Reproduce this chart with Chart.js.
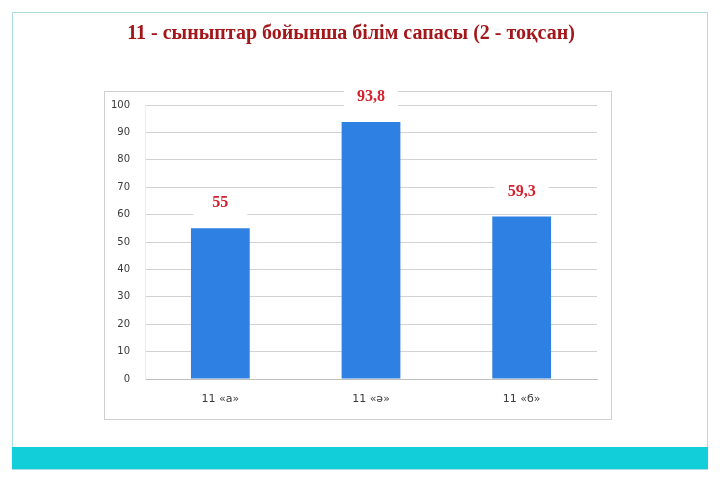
<!DOCTYPE html>
<html>
<head>
<meta charset="utf-8">
<script src="https://cdn.jsdelivr.net/npm/chart.js@4"></script>
<style>
  html, body { margin: 0; padding: 0; background: #fff; }
  canvas { display: block; }
</style>
</head>
<body>
<canvas id="myChart" width="720" height="480"></canvas>
<script>
// chart data
const classes = ['11 «а»', '11 «ә»', '11 «б»'];
const quality = [55, 93.8, 59.3];
const yTicks = [0, 10, 20, 30, 40, 50, 60, 70, 80, 90, 100];
const titleText = '11 - сыныптар бойынша білім сапасы (2 - тоқсан)';

// slide frame, teal strip and chart box
const slideFrame = {
  id: 'slideFrame',
  beforeDraw(chart) {
    const ctx = chart.ctx;
    ctx.save();
    ctx.fillStyle = '#fff';
    ctx.fillRect(0, 0, 720, 480);
    ctx.strokeStyle = '#a8dde4';
    ctx.lineWidth = 1;
    ctx.strokeRect(12.5, 12.5, 695, 457);
    ctx.fillStyle = '#12ced9';
    ctx.fillRect(12, 447, 696, 22);
    ctx.strokeStyle = '#d0d0d0';
    ctx.strokeRect(104.5, 91.5, 507, 328);
    ctx.restore();
  }
};

// value labels with white box
const valueLabels = {
  id: 'valueLabels',
  afterDatasetsDraw(chart) {
    const ctx = chart.ctx;
    const meta = chart.getDatasetMeta(0);
    ctx.save();
    meta.data.forEach((bar, i) => {
      ctx.fillStyle = '#fff';
      ctx.fillRect(bar.x - 27, bar.y - 38, 54, 28);
      ctx.fillStyle = '#d4202c';
      ctx.font = 'bold 16px "Liberation Serif"';
      ctx.textAlign = 'center';
      ctx.textBaseline = 'middle';
      ctx.fillText(String(quality[i]).replace('.', ','), bar.x, bar.y - 25);
    });
    ctx.restore();
  }
};

new Chart(document.getElementById('myChart'), {
  type: 'bar',
  data: {
    labels: classes,
    datasets: [{
      data: quality,
      backgroundColor: '#2f80e3',
      barPercentage: 0.39,
      categoryPercentage: 1
    }]
  },
  options: {
    responsive: false,
    animation: false,
    layout: { padding: { left: 105, right: 123, top: 0, bottom: 61 } },
    plugins: {
      legend: { display: false },
      tooltip: { enabled: false },
      title: {
        display: true,
        text: titleText,
        color: '#a3161a',
        font: { family: '"Liberation Serif"', size: 20, weight: 'bold', lineHeight: 1.2 },
        padding: { top: 22, bottom: 59 }
      }
    },
    scales: {
      x: {
        grid: { display: false, drawTicks: false },
        border: { color: '#bfbfbf' },
        ticks: { color: '#3a3a3a', font: { family: '"DejaVu Sans"', size: 11 }, padding: 14 },
        afterFit: s => { s.height = 40; }
      },
      y: {
        min: 0,
        max: 100,
        afterBuildTicks: s => { s.ticks = yTicks.map(v => ({ value: v })); },
        grid: { color: '#d2d2d2', drawTicks: false },
        border: { color: '#ececec' },
        ticks: { color: '#3a3a3a', font: { family: '"DejaVu Sans"', size: 10 }, padding: 15 },
        afterFit: s => { s.width = 40; }
      }
    }
  },
  plugins: [slideFrame, valueLabels]
});
</script>
</body>
</html>
